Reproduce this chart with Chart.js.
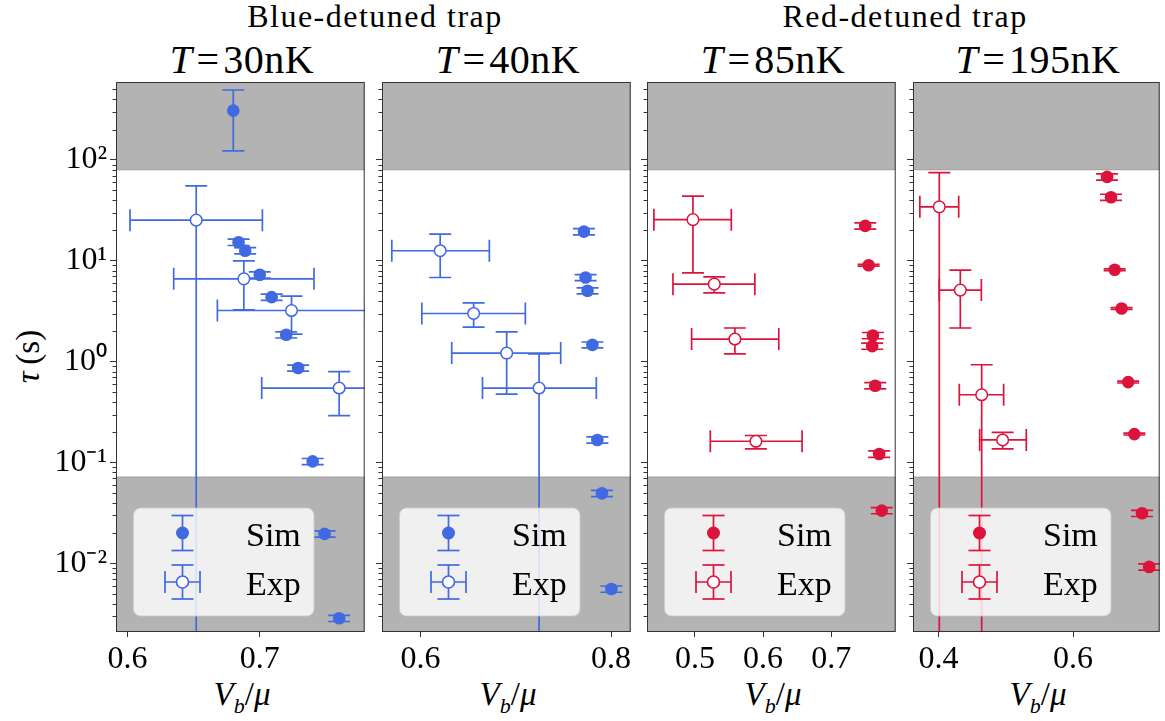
<!DOCTYPE html>
<html><head><meta charset="utf-8">
<script src="https://cdn.jsdelivr.net/npm/chart.js@4"></script>
<style>
body{margin:0;width:1165px;height:721px;background:#fff;position:relative;overflow:hidden;font-family:"Liberation Serif",serif;}
canvas{position:absolute;top:0;}
.t{position:absolute;text-align:center;white-space:nowrap;color:#000;font-family:"Liberation Serif",serif;}
</style></head><body>
<div class="t" style="left:75px;width:600px;top:0px;font-size:32px;line-height:32px;letter-spacing:1.5px;">Blue-detuned trap</div>
<div class="t" style="left:605px;width:600px;top:0px;font-size:32px;line-height:32px;letter-spacing:1.5px;">Red-detuned trap</div>
<div class="t" style="left:42px;width:400px;top:40px;font-size:40px;line-height:40px;letter-spacing:0.5px;"><i>T</i>&#8202;=&#8202;30nK</div>
<div class="t" style="left:308px;width:400px;top:40px;font-size:40px;line-height:40px;letter-spacing:0.5px;"><i>T</i>&#8202;=&#8202;40nK</div>
<div class="t" style="left:573px;width:400px;top:40px;font-size:40px;line-height:40px;letter-spacing:0.5px;"><i>T</i>&#8202;=&#8202;85nK</div>
<div class="t" style="left:838px;width:400px;top:40px;font-size:40px;line-height:40px;letter-spacing:0.5px;"><i>T</i>&#8202;=&#8202;195nK</div>
<div class="t" style="left:142px;width:200px;top:678px;font-size:33px;line-height:33px;"><i>V<sub style="font-size:22px;">b</sub></i>/<i>μ</i></div>
<div class="t" style="left:408px;width:200px;top:678px;font-size:33px;line-height:33px;"><i>V<sub style="font-size:22px;">b</sub></i>/<i>μ</i></div>
<div class="t" style="left:673px;width:200px;top:678px;font-size:33px;line-height:33px;"><i>V<sub style="font-size:22px;">b</sub></i>/<i>μ</i></div>
<div class="t" style="left:938px;width:200px;top:678px;font-size:33px;line-height:33px;"><i>V<sub style="font-size:22px;">b</sub></i>/<i>μ</i></div>
<div class="t" style="left:-22px;width:100px;top:340px;font-size:33px;line-height:33px;transform:rotate(-90deg);"><i>τ</i>&#8201;(s)</div>
<script>
// ---------- data ----------
const yTickValues = [0.01, 0.1, 1, 10, 100];
const yTickLabels = ['10\u207B\u00B2', '10\u207B\u00B9', '10\u2070', '10\u00B9', '10\u00B2'];
const yMin = 0.0021, yMax = 592;
const bandHigh = 80, bandLow = 0.072;

// Panel 1: blue-detuned, T = 30nK
const p1XTicks = [0.6, 0.7];
const p1SimX  = [0.680, 0.684, 0.689, 0.700, 0.709, 0.720, 0.729, 0.740, 0.749, 0.760];
const p1SimY  = [308, 15.3, 12.6, 7.27, 4.37, 1.85, 0.867, 0.103, 0.0197, 0.00287];
const p1SimLo = [123, 14.2, 11.7, 6.76, 4.06, 1.72, 0.806, 0.0958, 0.0183, 0.00267];
const p1SimHi = [493, 16.4, 13.5, 7.78, 4.68, 1.98, 0.928, 0.110, 0.0211, 0.00307];
const p1ExpX   = [0.652, 0.688, 0.724, 0.760];
const p1ExpY   = [25.3, 6.63, 3.22, 0.549];
const p1ExpYLo = [0.0001, 3.27, 1.88, 0.292];
const p1ExpYHi = [55.3, 10.0, 4.47, 0.80];
const p1ExpXLo = [0.602, 0.635, 0.668, 0.7015];
const p1ExpXHi = [0.702, 0.741, 0.780, 0.819];

// Panel 2: blue-detuned, T = 40nK
const p2XTicks = [0.6, 0.8];
const p2SimX  = [0.7715, 0.7732, 0.7753, 0.7804, 0.7856, 0.7904, 0.8003];
const p2SimY  = [19.5, 6.84, 5.05, 1.47, 0.168, 0.0497, 0.0056];
const p2SimLo = [18.1, 6.36, 4.70, 1.37, 0.156, 0.0462, 0.0052];
const p2SimHi = [20.9, 7.32, 5.40, 1.57, 0.180, 0.0532, 0.0060];
const p2ExpX   = [0.6206, 0.6557, 0.6904, 0.7244];
const p2ExpY   = [12.6, 3.01, 1.22, 0.549];
const p2ExpYLo = [6.84, 2.20, 0.479, 0.0001];
const p2ExpYHi = [18.4, 3.84, 1.98, 1.2];
const p2ExpXLo = [0.5698, 0.6013, 0.6327, 0.665];
const p2ExpXHi = [0.6722, 0.710, 0.7471, 0.7845];

// Panel 3: red-detuned, T = 85nK
const p3XTicks = [0.5, 0.6, 0.7];
const p3SimX  = [0.750, 0.755, 0.7612, 0.7602, 0.7646, 0.7704, 0.7742];
const p3SimY  = [22.2, 9.06, 1.82, 1.43, 0.579, 0.122, 0.0335];
const p3SimLo = [20.6, 8.88, 1.69, 1.33, 0.538, 0.113, 0.0312];
const p3SimHi = [23.8, 9.24, 1.95, 1.53, 0.620, 0.131, 0.0358];
const p3ExpX   = [0.4971, 0.5284, 0.5587, 0.5895];
const p3ExpY   = [25.6, 5.88, 1.68, 0.163];
const p3ExpYLo = [7.6, 4.82, 1.2, 0.137];
const p3ExpYHi = [43.7, 6.94, 2.16, 0.186];
const p3ExpXLo = [0.4398, 0.4678, 0.4952, 0.5226];
const p3ExpXHi = [0.5534, 0.588, 0.6231, 0.6573];

// Panel 4: red-detuned, T = 195nK
const p4XTicks = [0.4, 0.6];
const p4SimX  = [0.6507, 0.6566, 0.662, 0.6723, 0.6821, 0.6913, 0.7026, 0.7133];
const p4SimY  = [67.9, 42.7, 8.15, 3.37, 0.629, 0.192, 0.0315, 0.00927];
const p4SimLo = [63.1, 39.7, 7.99, 3.30, 0.616, 0.188, 0.0293, 0.00862];
const p4SimHi = [72.7, 45.7, 8.31, 3.44, 0.642, 0.196, 0.0337, 0.00992];
const p4ExpX   = [0.401, 0.4323, 0.4641, 0.4953];
const p4ExpY   = [34.3, 5.13, 0.471, 0.168];
const p4ExpYLo = [0.0001, 2.16, 0.0001, 0.137];
const p4ExpYHi = [74.8, 8.09, 0.934, 0.20];
const p4ExpXLo = [0.3721, 0.401, 0.4308, 0.4611];
const p4ExpXHi = [0.4299, 0.4636, 0.4968, 0.5305];

// ---------- styling / layout ----------
const BLUE = '#4169E1', RED = '#DC143C';
const PLOT_TOP = 82, PLOT_BOTTOM = 632, XH = 46;
const FONT = "'Liberation Serif', serif";
const LW = 1.7;

const panels = [
  {L:116, R:369, yW:116, xMin:0.5914, xMax:0.7793, xTicks:p1XTicks, color:BLUE, showY:true,
   simX:p1SimX, simY:p1SimY, simLo:p1SimLo, simHi:p1SimHi,
   expX:p1ExpX, expY:p1ExpY, expYLo:p1ExpYLo, expYHi:p1ExpYHi, expXLo:p1ExpXLo, expXHi:p1ExpXHi},
  {L:382, R:635, yW:14, xMin:0.5595, xMax:0.8206, xTicks:p2XTicks, color:BLUE, showY:false,
   simX:p2SimX, simY:p2SimY, simLo:p2SimLo, simHi:p2SimHi,
   expX:p2ExpX, expY:p2ExpY, expYLo:p2ExpYLo, expYHi:p2ExpYHi, expXLo:p2ExpXLo, expXHi:p2ExpXHi},
  {L:647, R:900, yW:14, xMin:0.4297, xMax:0.7947, xTicks:p3XTicks, color:RED, showY:false,
   simX:p3SimX, simY:p3SimY, simLo:p3SimLo, simHi:p3SimHi,
   expX:p3ExpX, expY:p3ExpY, expYLo:p3ExpYLo, expYHi:p3ExpYHi, expXLo:p3ExpXLo, expXHi:p3ExpXHi},
  {L:913, R:1164, yW:14, xMin:0.3619, xMax:0.729, xTicks:p4XTicks, color:RED, showY:false,
   simX:p4SimX, simY:p4SimY, simLo:p4SimLo, simHi:p4SimHi,
   expX:p4ExpX, expY:p4ExpY, expYLo:p4ExpYLo, expYHi:p4ExpYHi, expXLo:p4ExpXLo, expXHi:p4ExpXHi}
];

function seg(ctx, x1, y1, x2, y2){ ctx.beginPath(); ctx.moveTo(x1, y1); ctx.lineTo(x2, y2); ctx.stroke(); }

const panelPlugin = {
  id: 'panelDecor',
  beforeDatasetsDraw(chart){
    const {ctx, chartArea:a} = chart, x = chart.scales.x, y = chart.scales.y;
    ctx.save();
    const yh = y.getPixelForValue(bandHigh), yl = y.getPixelForValue(bandLow);
    ctx.fillStyle = '#b3b3b3';
    ctx.fillRect(a.left, a.top, a.right - a.left, yh - a.top);
    ctx.fillRect(a.left, yl, a.right - a.left, a.bottom - yl);
    ctx.strokeStyle = '#999'; ctx.lineWidth = 1;
    seg(ctx, a.left, yh, a.right, yh); seg(ctx, a.left, yl, a.right, yl);
    // error bars
    ctx.beginPath(); ctx.rect(a.left, a.top, a.right - a.left, a.bottom - a.top); ctx.clip();
    const cap = 11;
    chart.data.datasets.forEach(ds => {
      ctx.strokeStyle = ds.pointBorderColor; ctx.lineWidth = LW;
      ds.data.forEach(d => {
        const px = x.getPixelForValue(d.x), py = y.getPixelForValue(d.y);
        if (d.xLo != null){
          const l = x.getPixelForValue(d.xLo), r = x.getPixelForValue(d.xHi);
          seg(ctx, l, py, r, py); seg(ctx, l, py - cap, l, py + cap); seg(ctx, r, py - cap, r, py + cap);
        }
        if (d.yLo != null){
          const t = y.getPixelForValue(d.yHi), b = y.getPixelForValue(d.yLo);
          seg(ctx, px, t, px, b); seg(ctx, px - cap, t, px + cap, t); seg(ctx, px - cap, b, px + cap, b);
        }
      });
    });
    ctx.restore();
  },
  afterDatasetsDraw(chart){
    const {ctx, chartArea:a} = chart, y = chart.scales.y;
    const col = chart.data.datasets[0].pointBorderColor;
    ctx.save();
    // minor ticks on y
    ctx.strokeStyle = '#333'; ctx.lineWidth = 1;
    [0.001, 0.01, 0.1, 1, 10, 100].forEach(d => {
      for (let m = 2; m <= 9; m++){
        const v = d * m;
        if (v < yMin || v > yMax) continue;
        const py = Math.round(y.getPixelForValue(v)) + 0.5;
        seg(ctx, a.left - 3.5, py, a.left, py);
      }
    });
    // legend
    const bx = a.left + 17.5, by = a.bottom - 124, bw = 180.5, bh = 108;
    ctx.beginPath(); ctx.roundRect(bx, by, bw, bh, 7);
    ctx.fillStyle = 'rgba(255,255,255,0.8)'; ctx.fill();
    ctx.strokeStyle = 'rgba(204,204,204,0.8)'; ctx.lineWidth = 1; ctx.stroke();
    const mx = a.left + 66.5, s1 = by + 25, s2 = by + 74, cap = 11;
    ctx.strokeStyle = col; ctx.lineWidth = LW;
    seg(ctx, mx, s1 - 17.5, mx, s1 + 17.5); seg(ctx, mx - cap, s1 - 17.5, mx + cap, s1 - 17.5); seg(ctx, mx - cap, s1 + 17.5, mx + cap, s1 + 17.5);
    ctx.beginPath(); ctx.arc(mx, s1, 6.5, 0, Math.PI * 2); ctx.fillStyle = col; ctx.fill();
    seg(ctx, mx, s2 - 17, mx, s2 + 17); seg(ctx, mx - cap, s2 - 17, mx + cap, s2 - 17); seg(ctx, mx - cap, s2 + 17, mx + cap, s2 + 17);
    seg(ctx, mx - 17.5, s2, mx + 17.5, s2); seg(ctx, mx - 17.5, s2 - cap, mx - 17.5, s2 + cap); seg(ctx, mx + 17.5, s2 - cap, mx + 17.5, s2 + cap);
    ctx.beginPath(); ctx.arc(mx, s2, 6, 0, Math.PI * 2); ctx.fillStyle = '#fff'; ctx.fill(); ctx.stroke();
    ctx.fillStyle = '#000'; ctx.font = '34px ' + FONT; ctx.textBaseline = 'alphabetic'; ctx.textAlign = 'left';
    ctx.fillText(chart.data.datasets[0].label, a.left + 130, by + 38);
    ctx.fillText(chart.data.datasets[1].label, a.left + 130, by + 87);
    // frame
    ctx.strokeStyle = '#333'; ctx.lineWidth = 1;
    ctx.strokeRect(a.left + 0.5, a.top + 0.5, a.right - a.left - 1, a.bottom - a.top - 1);
    ctx.restore();
  }
};

panels.forEach(p => {
  const cv = document.createElement('canvas');
  const W = p.yW + (p.R - p.L) + 3;
  cv.width = W; cv.height = 721;
  cv.style.left = (p.L - p.yW) + 'px'; cv.style.width = W + 'px'; cv.style.height = '721px';
  document.body.appendChild(cv);
  const simData = p.simX.map((x, i) => ({x, y:p.simY[i], yLo:p.simLo[i], yHi:p.simHi[i]}));
  const expData = p.expX.map((x, i) => ({x, y:p.expY[i], yLo:p.expYLo[i], yHi:p.expYHi[i], xLo:p.expXLo[i], xHi:p.expXHi[i]}));
  new Chart(cv, {
    type: 'scatter',
    data: {datasets: [
      {label:'Sim', data:simData, pointRadius:6.3, pointHoverRadius:6.3, pointBackgroundColor:p.color, pointBorderColor:p.color, pointBorderWidth:0},
      {label:'Exp', data:expData, pointRadius:5.8, pointHoverRadius:5.8, pointBackgroundColor:'#fff', pointBorderColor:p.color, pointBorderWidth:1.5}
    ]},
    options: {
      responsive:false, animation:false, devicePixelRatio:1, events:[],
      layout: {padding: {top:PLOT_TOP, bottom:721 - PLOT_BOTTOM - XH, left:0, right:3}},
      plugins: {legend:{display:false}, tooltip:{enabled:false}, title:{display:false}},
      scales: {
        x: {
          type:'linear', min:p.xMin, max:p.xMax,
          afterBuildTicks: s => { s.ticks = p.xTicks.map(v => ({value:v})); },
          afterFit: s => { s.height = XH; s.paddingLeft = 0; s.paddingRight = 0; },
          ticks: {callback: v => Number(v).toFixed(1), font:{family:FONT, size:32}, color:'#000', padding:3, maxRotation:0, autoSkip:false},
          grid: {display:true, drawOnChartArea:false, drawTicks:true, tickLength:5, tickColor:'#333', tickWidth:1},
          border: {display:false}
        },
        y: {
          type:'logarithmic', min:yMin, max:yMax,
          afterBuildTicks: s => { s.ticks = yTickValues.map(v => ({value:v, major:true})); },
          afterFit: s => { s.width = p.yW; s.paddingTop = 0; s.paddingBottom = 0; },
          ticks: {display:p.showY, callback: (v, i) => yTickLabels[i], font:{family:FONT, size:32}, color:'#000', padding:3, autoSkip:false},
          grid: {display:true, drawOnChartArea:false, drawTicks:true, tickLength:6, tickColor:'#333', tickWidth:1},
          border: {display:false}
        }
      }
    },
    plugins: [panelPlugin]
  });
});
</script>
</body></html>
